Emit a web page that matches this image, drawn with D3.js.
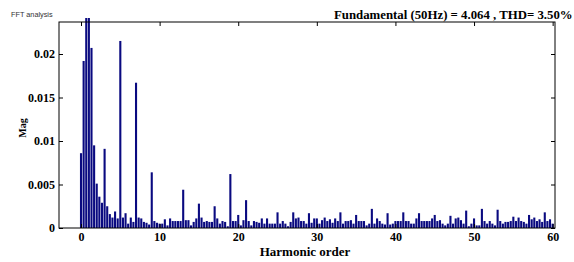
<!DOCTYPE html>
<html>
<head>
<meta charset="utf-8">
<script src="https://cdn.jsdelivr.net/npm/d3@7"></script>
<style>
html,body{margin:0;padding:0;background:#fff;}
svg{display:block;}
</style>
</head>
<body>
<svg id="chart" width="574" height="262"></svg>
<script>
// ---- data ----
const titleText = "Fundamental (50Hz) = 4.064 , THD= 3.50%";
const figureLabel = "FFT analysis";
const xLabel = "Harmonic order";
const yLabel = "Mag";
const harmonicStep = 1/3; // spectral resolution, in harmonic orders
const xTicks = [0, 10, 20, 30, 40, 50, 60];
const yTicks = [0, 0.005, 0.01, 0.015, 0.02];
const mags = [
  0.0086, 0.0192, 0.0300, 4.064, 0.0207, 0.0095, 0.0051, 0.0036, 0.0029, 0.0091,
  0.0025, 0.0016, 0.0012, 0.0019, 0.0011, 0.0215, 0.0012, 0.0017, 0.0005, 0.0012,
  0.0007, 0.0167, 0.0012, 0.0011, 0.0007, 0.0006, 0.0004, 0.0064, 0.0008, 0.0006,
  0.0005, 0.0005, 0.0010, 0.0003, 0.0011, 0.0008, 0.0008, 0.0008, 0.0008, 0.0044,
  0.0009, 0.0009, 0.0003, 0.0007, 0.0011, 0.0028, 0.0012, 0.0007, 0.0008, 0.0007,
  0.0007, 0.0025, 0.0011, 0.0005, 0.0008, 0.0007, 0.0002, 0.0062, 0.0008, 0.0008,
  0.0015, 0.0003, 0.0009, 0.0032, 0.0008, 0.0003, 0.0008, 0.0007, 0.0006, 0.0011,
  0.0005, 0.0011, 0.0005, 0.0005, 0.0005, 0.0018, 0.0005, 0.0008, 0.0005, 0.0002,
  0.0007, 0.0018, 0.0011, 0.0012, 0.0008, 0.0008, 0.0005, 0.0017, 0.0006, 0.0011,
  0.0011, 0.0005, 0.0009, 0.0012, 0.0008, 0.0010, 0.0006, 0.0011, 0.0008, 0.0018,
  0.0005, 0.0008, 0.0008, 0.0009, 0.0005, 0.0015, 0.0008, 0.0008, 0.0008, 0.0003,
  0.0005, 0.0022, 0.0005, 0.0011, 0.0008, 0.0005, 0.0004, 0.0017, 0.0004, 0.0005,
  0.0008, 0.0008, 0.0008, 0.0018, 0.0008, 0.0008, 0.0005, 0.0005, 0.0011, 0.0017,
  0.0008, 0.0008, 0.0008, 0.0008, 0.0011, 0.0015, 0.0008, 0.0009, 0.0005, 0.0003,
  0.0005, 0.0014, 0.0005, 0.0011, 0.0012, 0.0009, 0.0005, 0.0020, 0.0002, 0.0005,
  0.0011, 0.0003, 0.0003, 0.0022, 0.0008, 0.0005, 0.0008, 0.0005, 0.0003, 0.0021,
  0.0008, 0.0005, 0.0007, 0.0007, 0.0008, 0.0013, 0.0008, 0.0012, 0.0008, 0.0007,
  0.0005, 0.0015, 0.0010, 0.0012, 0.0008, 0.0010, 0.0007, 0.0018, 0.0008, 0.0010,
  0.0005
];
const orders = mags.map((_, i) => i * harmonicStep);

// ---- layout ----
(function () {
const pL = 59, pR = 555, pT = 22, pB = 228;
const svg = d3.select("#chart");
const serif = "'Liberation Serif','Times New Roman',serif";

const x = d3.scaleLinear().domain([-2.8, 60.3]).range([pL, pR]);
const y = d3.scaleLinear().domain([0, 0.02368]).range([pB, pT]);

svg.append("defs").append("clipPath").attr("id", "clip")
  .append("rect").attr("x", pL).attr("y", 18).attr("width", pR - pL).attr("height", pB - 18);

const barW = (x(harmonicStep) - x(0)) * 0.8;
svg.append("g").attr("clip-path", "url(#clip)")
  .selectAll("rect").data(mags).join("rect")
  .attr("x", (d, i) => x(orders[i]) - barW / 2)
  .attr("y", d => y(d))
  .attr("width", barW)
  .attr("height", d => pB - y(d))
  .attr("fill", "#0a0a80");

// box
svg.append("rect").attr("x", pL).attr("y", pT).attr("width", pR - pL).attr("height", pB - pT)
  .attr("fill", "none").attr("stroke", "#000").attr("stroke-width", 1);

function styleAxis(g) {
  g.select(".domain").remove();
  g.selectAll("line").attr("stroke", "#000");
  g.selectAll("text").attr("font-family", serif).attr("font-weight", "bold").attr("font-size", 12).attr("fill", "#000");
}

svg.append("g").attr("transform", `translate(0,${pB})`)
  .call(d3.axisBottom(x).tickValues(xTicks).tickSizeInner(-4).tickSizeOuter(0).tickPadding(4.5).tickFormat(d3.format("d")))
  .call(styleAxis);
svg.append("g").attr("transform", `translate(0,${pT})`)
  .call(d3.axisTop(x).tickValues(xTicks).tickSizeInner(-4).tickSizeOuter(0).tickFormat(""))
  .call(styleAxis);
svg.append("g").attr("transform", `translate(${pL},0)`)
  .call(d3.axisLeft(y).tickValues(yTicks).tickSizeInner(-4).tickSizeOuter(0).tickPadding(4).tickFormat(d => d === 0 ? "0" : String(d)))
  .call(styleAxis);
svg.append("g").attr("transform", `translate(${pR},0)`)
  .call(d3.axisRight(y).tickValues(yTicks).tickSizeInner(-4).tickSizeOuter(0).tickFormat(""))
  .call(styleAxis);

// texts
svg.append("text").attr("x", 334).attr("y", 18.5)
  .attr("font-family", serif).attr("font-weight", "bold").attr("font-size", 12.8)
  .text(titleText);
svg.append("text").attr("x", 11).attr("y", 17)
  .attr("font-family", "'Liberation Sans',Arial,sans-serif").attr("font-size", 7.3).attr("fill", "#333")
  .text(figureLabel);
svg.append("text").attr("x", 305).attr("y", 256).attr("text-anchor", "middle")
  .attr("font-family", serif).attr("font-weight", "bold").attr("font-size", 13)
  .text(xLabel);
svg.append("text").attr("transform", "translate(26,128) rotate(-90)").attr("text-anchor", "middle")
  .attr("font-family", serif).attr("font-weight", "bold").attr("font-size", 10)
  .text(yLabel);
})();
</script>
</body>
</html>
